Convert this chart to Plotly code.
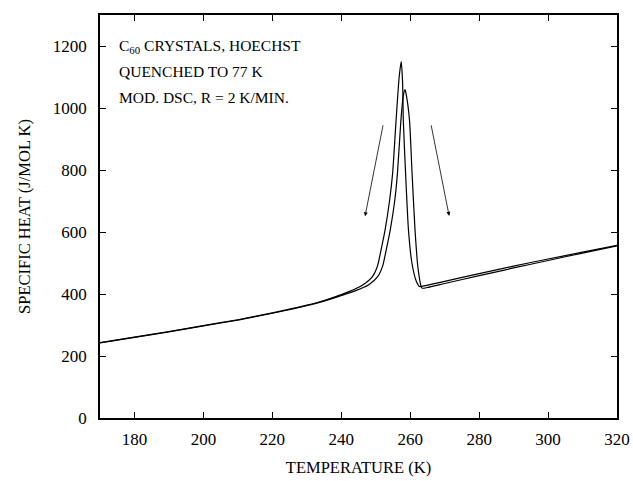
import plotly.graph_objects as go

# Curve A (first run, taller peak)
temp_a = [170, 180, 190, 200, 210, 220, 230, 235, 240, 244, 247, 249, 250.5, 251.5,
          252.7, 254.0, 254.9, 255.9, 256.8, 257.4, 257.8, 258.0, 258.7, 259.5, 260.5,
          261.8, 262.7, 264, 270, 280, 290, 300, 310, 320]
cp_a = [243, 261, 279, 298, 317, 339, 364, 379, 398, 416, 435, 455, 490, 540,
        606, 700, 789, 960, 1100, 1150, 1080, 960, 780, 606, 500,
        440, 424, 426, 441, 466, 490, 513, 535, 557]

# Curve B (second run, lower peak)
temp_b = [170, 180, 190, 200, 210, 220, 230, 235, 240, 244, 248, 250.5, 252, 253,
          254.2, 255.5, 256.3, 257.3, 258.0, 258.5, 258.9, 259.8, 260.5, 261.4, 262.3,
          263.4, 265, 270, 280, 290, 300, 310, 320]
cp_b = [242, 260, 278, 297, 316, 338, 362, 377, 395, 410, 430, 455, 490, 540,
        606, 700, 789, 960, 1040, 1059, 1040, 960, 800, 606, 480,
        419, 421, 434, 459, 484, 508, 532, 555]

label_lines = ["C<sub>60</sub> CRYSTALS, HOECHST", "QUENCHED TO 77 K", "MOD. DSC, R = 2 K/MIN."]
label_y = [1198, 1118, 1034]
label_x = 175

# arrows: (tail_x, tail_y, head_x, head_y)
arrows = [(252.2, 949, 246.9, 651), (266.0, 949, 271.3, 652)]

x_ticks = [180, 200, 220, 240, 260, 280, 300, 320]
y_ticks = [0, 200, 400, 600, 800, 1000, 1200]

FONT = "Liberation Serif, Times New Roman, serif"

fig = go.Figure()
fig.add_trace(go.Scatter(x=temp_a, y=cp_a, mode="lines", line=dict(color="black", width=1.2, shape="spline", smoothing=0.6), showlegend=False))
fig.add_trace(go.Scatter(x=temp_b, y=cp_b, mode="lines", line=dict(color="black", width=1.2, shape="spline", smoothing=0.6), showlegend=False))

for txt, yy in zip(label_lines, label_y):
    fig.add_annotation(x=label_x, y=yy, text=txt, showarrow=False, xanchor="left", yanchor="middle",
                       font=dict(family=FONT, size=15.5, color="black"))

for tx, ty, hx, hy in arrows:
    fig.add_annotation(x=hx, y=hy, ax=tx, ay=ty, axref="x", ayref="y", xref="x", yref="y",
                       showarrow=True, arrowhead=2, arrowsize=1, arrowwidth=0.8, arrowcolor="black", text="")

axis_common = dict(showline=True, linecolor="black", linewidth=1.5, mirror="all", ticks="inside",
                   ticklen=6, tickwidth=1.2, tickcolor="black", showgrid=False, zeroline=False,
                   automargin=False, tickfont=dict(family=FONT, size=17, color="black"))

fig.update_layout(
    width=633, height=481,
    margin=dict(l=100, r=16, t=15, b=63),
    paper_bgcolor="white", plot_bgcolor="white",
    xaxis=dict(range=[170, 320], tickvals=x_ticks, ticklabelstandoff=5,
               title=dict(text="TEMPERATURE (K)", font=dict(family=FONT, size=16.5, color="black"), standoff=13),
               **axis_common),
    yaxis=dict(range=[0, 1300], tickvals=y_ticks, ticklabelstandoff=8,
               title=dict(text="SPECIFIC HEAT (J/MOL K)", font=dict(family=FONT, size=16.5, color="black"), standoff=18),
               **axis_common),
)

fig.write_html("out.html")
